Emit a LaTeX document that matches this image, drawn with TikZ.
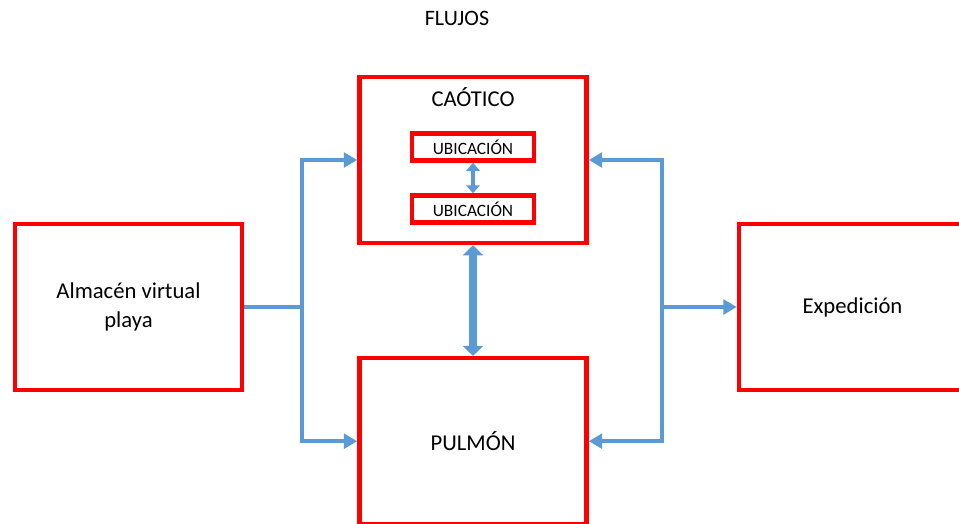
\documentclass[tikz,border=0pt]{standalone}
\usepackage{fontspec}
\setmainfont{Carlito}
\usepackage{xcolor}
\usetikzlibrary{positioning, arrows.meta}

\definecolor{boxred}{RGB}{255,0,0}
\definecolor{flowblue}{RGB}{91,155,213}
\newcommand{\pxl}{0.75pt}

\begin{document}
\begin{tikzpicture}[x=\pxl, y=-\pxl,
  box/.style={draw=boxred, line width=3.4pt, align=center, inner sep=0pt,
    font=\fontsize{17}{21.75}\selectfont},
  bigbox/.style={box, minimum width=227*\pxl, minimum height=166*\pxl},
  ubox/.style={box, minimum width=122*\pxl, minimum height=27*\pxl,
    font=\fontsize{13}{15}\selectfont},
  flow/.style={draw=flowblue, line width=3.3pt},
  arrow/.style={flow, -{Triangle[width=11pt, length=10pt]}},
  smallarrow/.style={draw=flowblue, line width=3.2pt,
    {Triangle[width=10pt, length=6pt]}-{Triangle[width=10pt, length=6pt]}},
  dblarrow/.style={draw=flowblue, line width=6.5pt,
    {Triangle[width=15pt, length=7.5pt]}-{Triangle[width=15pt, length=7.5pt]}}]

  \useasboundingbox (0,0) rectangle (959,524);

  \node[font=\fontsize{16.5}{20}\selectfont] (title) at (457,18) {FLUJOS};

  \node[bigbox] (caotico) at (473,160) {};
  \node[font=\fontsize{17}{21}\selectfont, anchor=base] (caotitle) at (473,107) {CAÓTICO};
  \node[ubox] (ubi1) at (473,147) {UBICACIÓN};
  \node[ubox, below=22.9pt of ubi1] (ubi2) {UBICACIÓN};

  \node[bigbox, below=83pt of caotico] (pulmon) {PULMÓN};
  \node[bigbox] (almacen) at (128.5,307) {Almacén virtual\\playa};
  \node[bigbox] (exped) at (852.5,307) {Expedición};

  \coordinate (lsplit) at (302,307);
  \coordinate (rsplit) at (662,307);

  \draw[smallarrow] (ubi1) -- (ubi2);
  \draw[dblarrow] (caotico) -- (pulmon);

  \draw[flow]  (almacen.east) -- (lsplit);
  \draw[arrow] (lsplit) |- (caotico.west);
  \draw[arrow] (lsplit) |- (pulmon.west);
  \draw[arrow] (rsplit) -- (exped.west);
  \draw[arrow] (rsplit) |- (caotico.east);
  \draw[arrow] (rsplit) |- (pulmon.east);
\end{tikzpicture}
\end{document}
